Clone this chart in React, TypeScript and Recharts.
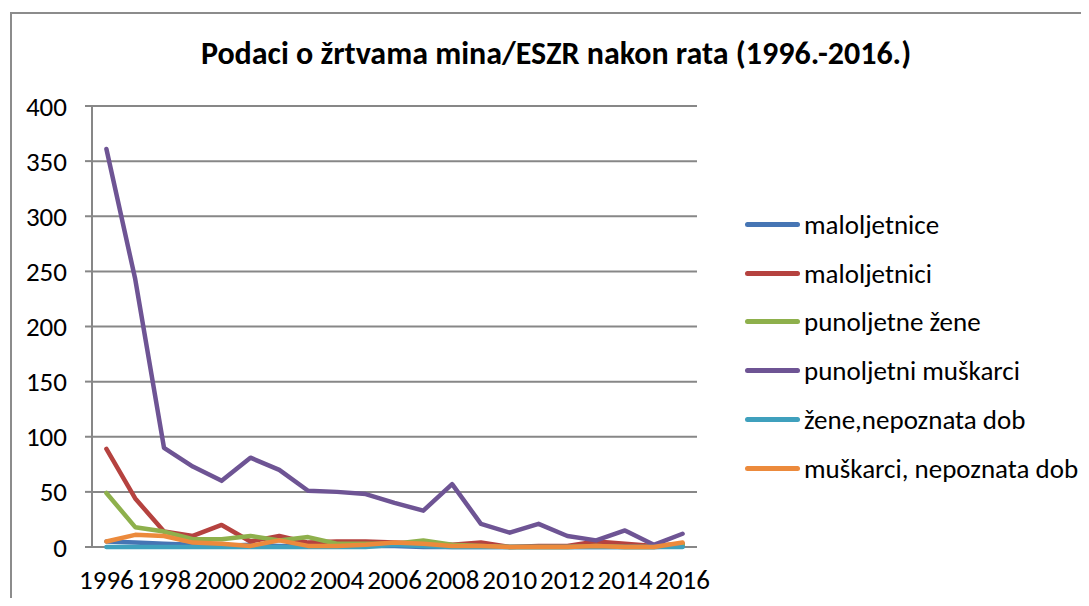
import { LineChart, Line, XAxis, YAxis, CartesianGrid } from 'recharts'

const years = [1996, 1997, 1998, 1999, 2000, 2001, 2002, 2003, 2004, 2005, 2006, 2007, 2008, 2009, 2010, 2011, 2012, 2013, 2014, 2015, 2016]
const maloljetnice = [5, 4, 3, 2, 1, 2, 1, 1, 1, 1, 1, 0, 0, 0, 0, 0, 0, 0, 0, 0, 1]
const maloljetnici = [89, 44, 14, 10, 20, 5, 10, 4, 5, 5, 4, 3, 2, 4, 0, 1, 1, 5, 3, 1, 3]
const punoljetneZene = [49, 18, 14, 7, 7, 10, 6, 9, 3, 3, 3, 6, 2, 1, 0, 0, 0, 1, 0, 0, 2]
const punoljetniMuskarci = [361, 243, 90, 73, 60, 81, 70, 51, 50, 48, 40, 33, 57, 21, 13, 21, 10, 6, 15, 2, 12]
const zeneNepoznata = [0, 0, 0, 0, 0, 0, 0, 0, 0, 0, 2, 1, 0, 0, 0, 0, 0, 0, 0, 0, 0]
const muskarciNepoznata = [5, 11, 10, 4, 3, 1, 6, 1, 1, 2, 4, 3, 1, 1, 0, 0, 0, 1, 0, 0, 4]

const yTicks = [0, 50, 100, 150, 200, 250, 300, 350, 400]
const labelTicks = [1996, 1998, 2000, 2002, 2004, 2006, 2008, 2010, 2012, 2014, 2016]
const markTicks = [...years.map((y) => y - 0.5), 2016.5]

const series = [
  { key: 'a', name: 'maloljetnice', color: '#4675B4', values: maloljetnice },
  { key: 'b', name: 'maloljetnici', color: '#B5423F', values: maloljetnici },
  { key: 'c', name: 'punoljetne žene', color: '#8EB04C', values: punoljetneZene },
  { key: 'd', name: 'punoljetni muškarci', color: '#6E5494', values: punoljetniMuskarci },
  { key: 'e', name: 'žene,nepoznata dob', color: '#3FA0BD', values: zeneNepoznata },
  { key: 'f', name: 'muškarci, nepoznata dob', color: '#EC8A3C', values: muskarciNepoznata },
]

const data = years.map((year, i) => {
  const row: Record<string, number> = { year }
  series.forEach((s) => { row[s.key] = s.values[i] })
  return row
})

const font = 'Carlito, Calibri, Lato, sans-serif'
const gray = '#878787'

export default function App() {
  return (
    <div style={{ position: 'relative', width: 1089, height: 606, overflow: 'hidden', margin: -8, background: '#fff', fontFamily: font }}>
      <div style={{ position: 'absolute', left: 10, top: 12, width: 1200, height: 700, border: '2px solid #8c8c8c' }} />
      <div style={{ position: 'absolute', left: 0, width: 1112, top: 34, textAlign: 'center', fontWeight: 700, fontSize: 32, color: '#000', whiteSpace: 'nowrap' }}>
        Podaci o žrtvama mina/ESZR nakon rata (1996.-2016.)
      </div>
      <div style={{ position: 'absolute', left: 0, top: 0 }}>
        <LineChart width={1089} height={606} data={data} margin={{ top: 106, right: 392, bottom: 0, left: 0 }}>
          <CartesianGrid vertical={false} stroke={gray} strokeWidth={2} />
          <XAxis
            xAxisId="marks"
            type="number"
            dataKey="year"
            domain={[1995.5, 2016.5]}
            ticks={markTicks}
            tickFormatter={() => ''}
            stroke={gray}
            strokeWidth={2}
            tickSize={7}
            height={0}
          />
          <XAxis
            type="number"
            dataKey="year"
            domain={[1995.5, 2016.5]}
            ticks={labelTicks}
            interval={0}
            axisLine={false}
            tickLine={false}
            tickSize={7}
            tickMargin={16}
            height={59}
            tick={{ fill: '#000', fontSize: 27, fontFamily: font }}
          />
          <YAxis
            domain={[0, 400]}
            ticks={yTicks}
            interval={0}
            width={92}
            stroke={gray}
            strokeWidth={2}
            tickSize={7}
            tickMargin={18}
            tick={{ fill: '#000', fontSize: 27, fontFamily: font }}
          />
          {series.map((s) => (
            <Line
              key={s.key}
              type="linear"
              dataKey={s.key}
              name={s.name}
              stroke={s.color}
              strokeWidth={4.5}
              strokeLinecap="round"
              strokeLinejoin="round"
              dot={false}
              activeDot={false}
              isAnimationActive={false}
            />
          ))}
        </LineChart>
      </div>
      <div style={{ position: 'absolute', left: 745, top: 200 }}>
        {series.map((s) => (
          <div key={s.key} style={{ display: 'flex', alignItems: 'center', height: 48.8 }}>
            <div style={{ width: 55, height: 5, borderRadius: 3, background: s.color }} />
            <span style={{ fontSize: 27, color: '#000', marginLeft: 4, whiteSpace: 'nowrap' }}>{s.name}</span>
          </div>
        ))}
      </div>
    </div>
  )
}
